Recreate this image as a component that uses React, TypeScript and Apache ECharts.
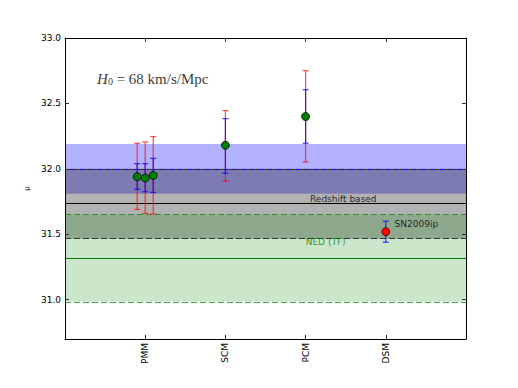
import React, { useEffect, useRef } from "react";
import * as echarts from "echarts";

// Categories on the x axis
const categories = ["PMM", "SCM", "PCM", "DSM"];
const categoryPos = [1, 2, 3, 4];

// Model points (green) with blue (inner) and red (outer) error bars
const modelX = [0.9, 1.0, 1.1, 2, 3];
const modelMu = [31.94, 31.93, 31.95, 32.18, 32.4];
const modelBlueLow = [31.845, 31.825, 31.82, 31.967, 32.196];
const modelBlueHigh = [32.04, 32.04, 32.08, 32.384, 32.605];
const modelRedLow = [31.69, 31.66, 31.655, 31.906, 32.053];
const modelRedHigh = [32.196, 32.206, 32.247, 32.445, 32.75];

// SN2009ip point
const snX = [4];
const snMu = [31.52];
const snLow = [31.44];
const snHigh = [31.6];

// Horizontal bands: [low, centre, high]
const blueBand = [31.81, 32.0, 32.19];
const redshiftBand = [31.466, 31.738, 32.0];
const nedBand = [30.985, 31.318, 31.652];

// Tick labels
const yTicks = [31.0, 31.5, 32.0, 32.5, 33.0];

const FONT = "DejaVu Sans";

function errorBarSeries(xs: number[], lo: number[], hi: number[], color: string, z: number) {
  return {
    type: "custom",
    z,
    silent: true,
    data: xs.map((x, i) => [x, lo[i], hi[i]]),
    encode: { x: 0, y: [1, 2] },
    renderItem: (params: any, api: any) => {
      const x = api.value(0);
      const pLo = api.coord([x, api.value(1)]);
      const pHi = api.coord([x, api.value(2)]);
      const w = 3;
      const style = { stroke: color, lineWidth: 1.2 };
      return {
        type: "group",
        children: [
          { type: "line", shape: { x1: pLo[0], y1: pLo[1], x2: pHi[0], y2: pHi[1] }, style },
          { type: "line", shape: { x1: pLo[0] - w, y1: pLo[1], x2: pLo[0] + w, y2: pLo[1] }, style },
          { type: "line", shape: { x1: pHi[0] - w, y1: pHi[1], x2: pHi[0] + w, y2: pHi[1] }, style },
        ],
      };
    },
  };
}

function bandSeries(band: number[], fill: string, centre: any, edge: any, z: number) {
  return {
    type: "line",
    data: [],
    z,
    silent: true,
    markArea: {
      silent: true,
      itemStyle: { color: fill },
      data: [[{ yAxis: band[0] }, { yAxis: band[2] }]],
    },
    markLine: {
      silent: true,
      symbol: ["none", "none"],
      label: { show: false },
      animation: false,
      data: [
        { yAxis: band[1], lineStyle: centre },
        ...(edge ? [{ yAxis: band[0], lineStyle: edge }, { yAxis: band[2], lineStyle: edge }] : []),
      ],
    },
  };
}

function textSeries(x: number, y: number, text: string, color: string, align: string) {
  return {
    type: "scatter",
    silent: true,
    z: 20,
    symbolSize: 0,
    data: [[x, y]],
    label: {
      show: true,
      position: "inside",
      align,
      verticalAlign: "middle",
      formatter: () => text,
      color,
      fontFamily: FONT,
      fontSize: 9,
    },
  };
}

export default function App() {
  const ref = useRef<HTMLDivElement>(null);
  useEffect(() => {
    if (!ref.current) return;
    const chart = echarts.init(ref.current, undefined, { renderer: "svg" });
    const axisLine = { show: true, onZero: false, lineStyle: { color: "#000", width: 1 } };
    const tick = { show: true, inside: true, length: 4, lineStyle: { color: "#000", width: 0.8 } };
    chart.setOption({
      animation: false,
      backgroundColor: "#fff",
      grid: { left: 65, right: 52, top: 38, bottom: 49 },
      xAxis: [
        {
          type: "value",
          min: 0,
          max: 5,
          interval: 1,
          position: "bottom",
          axisLine,
          axisTick: { ...tick, customValues: categoryPos },
          splitLine: { show: false },
          axisLabel: {
            customValues: categoryPos,
            rotate: 90,
            margin: 4,
            color: "#000",
            fontFamily: FONT,
            fontSize: 9,
            formatter: (v: number) => {
              const i = categoryPos.indexOf(Math.round(v));
              return i >= 0 ? categories[i] : "";
            },
          },
        },
        {
          type: "value",
          min: 0,
          max: 5,
          interval: 1,
          position: "top",
          axisLine,
          axisTick: { ...tick, customValues: categoryPos },
          splitLine: { show: false },
          axisLabel: { show: false },
        },
      ],
      yAxis: [
        {
          type: "value",
          min: 30.7,
          max: 33.0,
          position: "left",
          axisLine,
          axisTick: { ...tick, customValues: yTicks },
          splitLine: { show: false },
          axisLabel: {
            customValues: yTicks,
            margin: 4,
            color: "#000",
            fontFamily: FONT,
            fontSize: 9,
            formatter: (v: number) => v.toFixed(1),
          },
          name: "μ",
          nameLocation: "middle",
          nameRotate: 90,
          nameGap: 30,
          nameTextStyle: { fontFamily: FONT, fontSize: 7, color: "#000" },
        },
        {
          type: "value",
          min: 30.7,
          max: 33.0,
          position: "right",
          axisLine,
          axisTick: { ...tick, customValues: yTicks },
          splitLine: { show: false },
          axisLabel: { show: false },
        },
      ],
      series: [
        bandSeries(blueBand, "rgba(0,0,255,0.3)", { color: "#0000ff", type: "solid", width: 1 }, null, 1),
        bandSeries(
          redshiftBand,
          "rgba(0,0,0,0.3)",
          { color: "#000", type: "solid", width: 1 },
          { color: "#333", type: [6, 3], width: 1 },
          2
        ),
        bandSeries(
          nedBand,
          "rgba(0,128,0,0.2)",
          { color: "#008000", type: "solid", width: 1 },
          { color: "rgba(0,128,0,0.7)", type: [6, 3], width: 1 },
          3
        ),
        errorBarSeries(modelX, modelRedLow, modelRedHigh, "rgba(255,0,0,0.7)", 5),
        errorBarSeries(modelX, modelBlueLow, modelBlueHigh, "rgba(0,0,255,0.75)", 6),
        errorBarSeries(snX, snLow, snHigh, "rgba(0,0,255,0.75)", 6),
        {
          type: "scatter",
          z: 10,
          symbol: "circle",
          symbolSize: 8,
          data: modelX.map((x, i) => [x, modelMu[i]]),
          itemStyle: { color: "#008000", borderColor: "#000", borderWidth: 0.8, opacity: 1 },
        },
        {
          type: "scatter",
          z: 10,
          symbol: "circle",
          symbolSize: 8,
          data: snX.map((x, i) => [x, snMu[i]]),
          itemStyle: { color: "#ff0000", borderColor: "#400", borderWidth: 0.8, opacity: 1 },
        },
        textSeries(3.47, 31.77, "Redshift based", "#000", "center"),
        textSeries(3.25, 31.44, "NED (TF)", "#008000", "center"),
        textSeries(4.11, 31.58, "SN2009ip", "#000", "left"),
        {
          type: "scatter",
          silent: true,
          z: 20,
          symbolSize: 0,
          data: [[0.4, 32.69]],
          label: {
            show: true,
            position: "inside",
            align: "left",
            verticalAlign: "middle",
            formatter: () => "{h|H}{s|0}{n| = 68 km/s/Mpc}",
            rich: {
              h: { fontFamily: "Liberation Serif", fontStyle: "italic", fontSize: 15, color: "#000" },
              s: { fontFamily: "Liberation Serif", fontSize: 10, color: "#000", verticalAlign: "bottom", padding: [6, 0, 0, 0] },
              n: { fontFamily: "Liberation Serif", fontSize: 15, color: "#000" },
            },
          },
        },
      ],
    });
    return () => chart.dispose();
  }, []);
  return <div ref={ref} style={{ position: "fixed", left: 0, top: 0, width: 518, height: 388 }} />;
}
